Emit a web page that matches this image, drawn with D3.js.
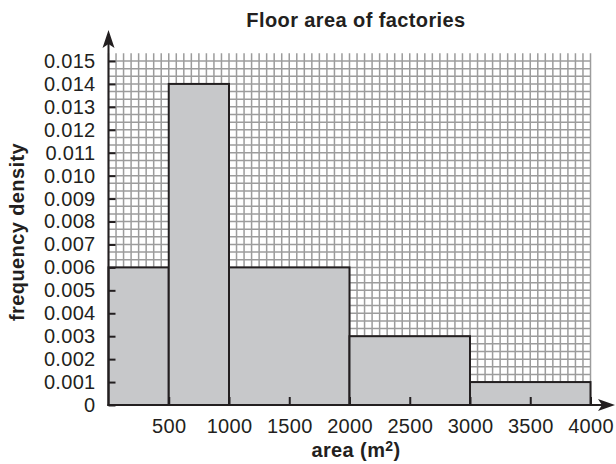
<!DOCTYPE html>
<html>
<head>
<meta charset="utf-8">
<script src="https://cdn.jsdelivr.net/npm/d3@7"></script>
<style>
  html, body { margin: 0; padding: 0; background: #fff; }
  svg { display: block; }
  text { font-family: "Liberation Sans", Arial, Helvetica, sans-serif; fill: #231f20; }
</style>
</head>
<body>
<svg id="chart" width="616" height="464"></svg>
<script>
// ---- data ----
const classStart = [0, 500, 1000, 2000, 3000];
const classEnd   = [500, 1000, 2000, 3000, 4000];
const density    = [0.006, 0.014, 0.006, 0.003, 0.001];
const xTicks = [500, 1000, 1500, 2000, 2500, 3000, 3500, 4000];
const yTicks = [0, 0.001, 0.002, 0.003, 0.004, 0.005, 0.006, 0.007, 0.008, 0.009, 0.010, 0.011, 0.012, 0.013, 0.014, 0.015];
const yTickLabels = ["0", "0.001", "0.002", "0.003", "0.004", "0.005", "0.006", "0.007", "0.008", "0.009", "0.010", "0.011", "0.012", "0.013", "0.014", "0.015"];
const titleText = "Floor area of factories";
const xTitle = "area (m";
const xTitleSup = "2";
const yTitle = "frequency density";

// ---- layout ----
const svg = d3.select("#chart");
const ink = "#231f20";
const x = d3.scaleLinear().domain([0, 4000]).range([108.5, 590.5]);
const y = d3.scaleLinear().domain([0, 0.015]).range([405, 61]);

// grid (graph paper): 8 cells per 500 in x, 3 cells per 0.001 in y
const gridTop = 0.015 + 0.001 / 3;
const gx = d3.range(0, 4000 + 1e-9, 62.5);
const gy = d3.range(0, 46).map(i => i * 0.001 / 3);
const grid = svg.append("g").attr("stroke", "#9c9c9c").attr("stroke-width", 1.5);
grid.selectAll("line.v").data(gx).join("line")
  .attr("x1", d => x(d)).attr("x2", d => x(d))
  .attr("y1", y(0)).attr("y2", y(gridTop));
grid.selectAll("line.h").data(gy).join("line")
  .attr("y1", d => y(d)).attr("y2", d => y(d))
  .attr("x1", x(0)).attr("x2", x(4000));

// bars
svg.append("g").selectAll("rect").data(density).join("rect")
  .attr("x", (d, i) => x(classStart[i]))
  .attr("width", (d, i) => x(classEnd[i]) - x(classStart[i]))
  .attr("y", d => y(d))
  .attr("height", d => y(0) - y(d))
  .attr("fill", "#c7c8ca")
  .attr("stroke", ink)
  .attr("stroke-width", 2);

// axes
const yAxis = d3.axisLeft(y).tickValues(yTicks)
  .tickFormat((d, i) => yTickLabels[i])
  .tickSizeInner(-7).tickSizeOuter(0).tickPadding(13);
const gY = svg.append("g").attr("transform", `translate(${x(0)},0)`).call(yAxis);
gY.select(".domain").remove();
gY.selectAll(".tick line").attr("stroke", ink).attr("stroke-width", 2);
gY.selectAll(".tick text").attr("font-size", 20).attr("letter-spacing", "0.3px")
  .attr("font-family", "Liberation Sans, Arial, sans-serif").attr("fill", ink);

const xAxis = d3.axisBottom(x).tickValues(xTicks).tickFormat(d3.format("d"))
  .tickSizeInner(-8).tickSizeOuter(0).tickPadding(0);
const gX = svg.append("g").attr("transform", `translate(0,${y(0)})`).call(xAxis);
gX.select(".domain").remove();
gX.selectAll(".tick line").attr("stroke", ink).attr("stroke-width", 2);
gX.selectAll(".tick text").attr("font-size", 20).attr("letter-spacing", "0.3px")
  .attr("font-family", "Liberation Sans, Arial, sans-serif").attr("fill", ink)
  .attr("y", 28).attr("dy", 0);

// axis lines with arrows
svg.append("line").attr("x1", x(0)).attr("x2", x(0)).attr("y1", y(0) + 1).attr("y2", 40)
  .attr("stroke", ink).attr("stroke-width", 2);
svg.append("line").attr("x1", x(0) - 1).attr("x2", 604).attr("y1", y(0)).attr("y2", y(0))
  .attr("stroke", ink).attr("stroke-width", 2);
// up arrow
const ax = x(0);
svg.append("path")
  .attr("d", `M${ax},30 L${ax + 6},48 L${ax},44 L${ax - 6},48 Z`)
  .attr("fill", ink);
// right arrow
const ay = y(0);
svg.append("path")
  .attr("d", `M615,${ay} L598,${ay - 6} L602,${ay} L598,${ay + 6} Z`)
  .attr("fill", ink);

// titles
svg.append("text").attr("x", 356).attr("y", 27).attr("text-anchor", "middle")
  .attr("font-size", 20).attr("font-weight", "bold").attr("letter-spacing", "0.4px")
  .text(titleText);

const xt = svg.append("text").attr("x", 356).attr("y", 457).attr("text-anchor", "middle")
  .attr("font-size", 20).attr("font-weight", "bold").attr("letter-spacing", "0.4px");
xt.append("tspan").text(xTitle);
xt.append("tspan").attr("font-size", 14).attr("dy", -6).text(xTitleSup);
xt.append("tspan").attr("dy", 6).text(")");

svg.append("text")
  .attr("transform", "translate(24,232) rotate(-90)")
  .attr("text-anchor", "middle")
  .attr("font-size", 20).attr("font-weight", "bold").attr("letter-spacing", "0.4px")
  .text(yTitle);
</script>
</body>
</html>
